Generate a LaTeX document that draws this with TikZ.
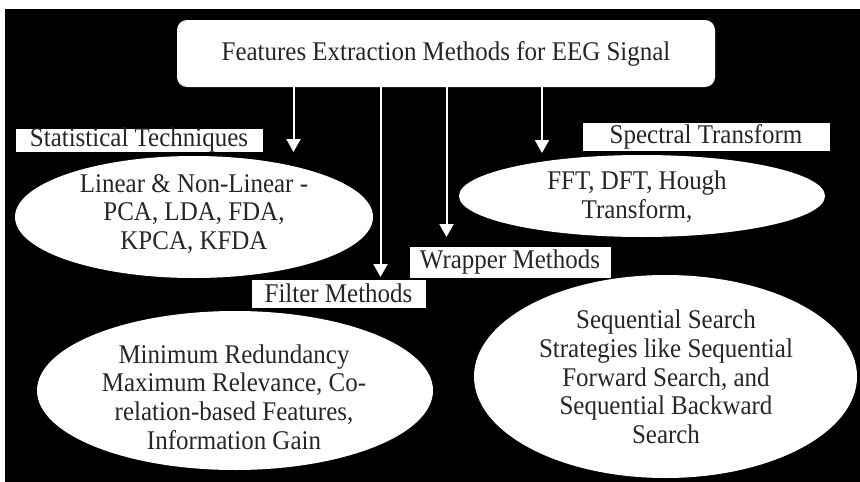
\documentclass[tikz,border=0pt]{standalone}
\usepackage{fontspec}
\setmainfont[FakeStretch=0.925]{Liberation Serif}
\usetikzlibrary{shapes.geometric,arrows.meta}
\begin{document}
\begin{tikzpicture}[x=1pt,y=-1pt,
  every node/.style={font=\fontsize{27}{28.7}\selectfont, inner sep=0pt},
  oval/.style={ellipse, fill=white, draw=none},
  tag/.style={rectangle, fill=white, draw=black, line width=0.6pt},
  body/.style={align=center, text=black!85},
  arr/.style={draw=white, line width=2pt, -{Triangle[width=14pt,length=13pt]}}
]
% canvas: thin white margin on the top and left, black elsewhere
\useasboundingbox (0,0) rectangle (860,482);
\fill[white] (0,0) rectangle (860,482);
\fill[black] (5,9) rectangle (860,482);

% title box
\node[fill=white, rounded corners=10pt, minimum width=538pt, minimum height=67pt] (top) at (446,53.5) {};
\node[text=black!85] (toptxt) at (446,54) {Features Extraction Methods for EEG Signal};

% category ovals
\node[oval, minimum width=358pt, minimum height=122pt] (statov) at (194,217) {};
\node[oval, minimum width=366pt, minimum height=82pt] (specov) at (642,196) {};
\node[oval, minimum width=396pt, minimum height=159pt] (filtov) at (235,390.5) {};
\node[oval, minimum width=383pt, minimum height=203pt] (wrapov) at (665.5,376.5) {};

\node[body] (stattxt) at (194,214) {Linear \& Non-Linear -\\PCA, LDA, FDA,\\KPCA, KFDA};
\node[body] (spectxt) at (637,197) {FFT, DFT, Hough\\Transform,};
\node[body] (filttxt) at (234,397) {Minimum Redundancy\\Maximum Relevance, Co-\\relation-based Features,\\Information Gain};
\node[body] (wraptxt) at (666,377) {Sequential Search\\Strategies like Sequential\\Forward Search, and\\Sequential Backward\\Search};

% category labels
\node[tag, minimum width=248pt, minimum height=24pt] (stattag) at (139,140) {};
\node[text=black!85] at (139,140) {Statistical Techniques};
\node[tag, minimum width=248pt, minimum height=29pt] (spectag) at (706,136.5) {};
\node[text=black!85] at (706,136.5) {Spectral Transform};
\node[tag, minimum width=202pt, minimum height=32pt] (wraptag) at (510,262) {};
\node[text=black!85] at (510,262) {Wrapper Methods};
\node[tag, minimum width=175pt, minimum height=29pt] (filttag) at (338.5,293.5) {};
\node[text=black!85] at (338.5,293.5) {Filter Methods};

% arrow ends
\coordinate (e1) at (293.5,152);
\coordinate (e2) at (380.5,277);
\coordinate (e3) at (446.5,237);
\coordinate (e4) at (542,153);

\draw[arr] (top.south -| e1) -- (e1);
\draw[arr] (top.south -| e2) -- (e2);
\draw[arr] (top.south -| e3) -- (e3);
\draw[arr] (top.south -| e4) -- (e4);
\end{tikzpicture}
\end{document}
